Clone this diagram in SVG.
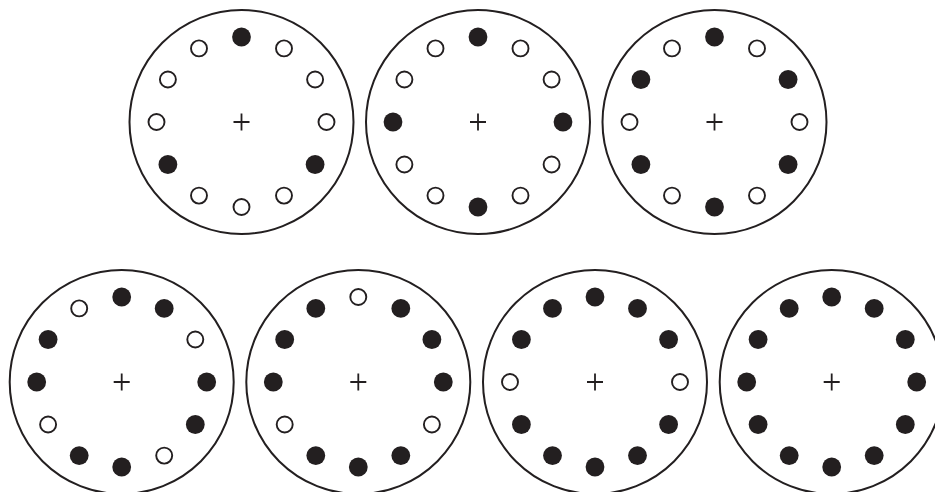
<svg xmlns="http://www.w3.org/2000/svg" xmlns:xlink="http://www.w3.org/1999/xlink" width="935" height="492" viewBox="0 0 935 492">
<style>
.disc{fill:#fff;stroke:#231f20;stroke-width:2}
.f{fill:#231f20}
.o{fill:#fff;stroke:#231f20;stroke-width:1.9}
.plus{stroke:#231f20;stroke-width:1.8;fill:none}
</style>
<defs>
<circle id="F" r="9.4" class="f"/>
<circle id="O" r="8" class="o"/>
<path id="P" class="plus" d="M-8,0H8M0,-8.5V8.5"/>
</defs>
<rect width="935" height="492" fill="#fff"/>

<g id="plate1" transform="translate(241.5,122)">
<circle class="disc" r="112"/><use xlink:href="#P"/>
<use xlink:href="#F" x="0" y="-85"/>
<use xlink:href="#O" x="42.5" y="-73.6"/>
<use xlink:href="#O" x="73.6" y="-42.5"/>
<use xlink:href="#O" x="85" y="0"/>
<use xlink:href="#F" x="73.6" y="42.5"/>
<use xlink:href="#O" x="42.5" y="73.6"/>
<use xlink:href="#O" x="0" y="85"/>
<use xlink:href="#O" x="-42.5" y="73.6"/>
<use xlink:href="#F" x="-73.6" y="42.5"/>
<use xlink:href="#O" x="-85" y="0"/>
<use xlink:href="#O" x="-73.6" y="-42.5"/>
<use xlink:href="#O" x="-42.5" y="-73.6"/>
</g>

<g id="plate2" transform="translate(478,122)">
<circle class="disc" r="112"/><use xlink:href="#P"/>
<use xlink:href="#F" x="0" y="-85"/>
<use xlink:href="#O" x="42.5" y="-73.6"/>
<use xlink:href="#O" x="73.6" y="-42.5"/>
<use xlink:href="#F" x="85" y="0"/>
<use xlink:href="#O" x="73.6" y="42.5"/>
<use xlink:href="#O" x="42.5" y="73.6"/>
<use xlink:href="#F" x="0" y="85"/>
<use xlink:href="#O" x="-42.5" y="73.6"/>
<use xlink:href="#O" x="-73.6" y="42.5"/>
<use xlink:href="#F" x="-85" y="0"/>
<use xlink:href="#O" x="-73.6" y="-42.5"/>
<use xlink:href="#O" x="-42.5" y="-73.6"/>
</g>

<g id="plate3" transform="translate(714.5,122)">
<circle class="disc" r="112"/><use xlink:href="#P"/>
<use xlink:href="#F" x="0" y="-85"/>
<use xlink:href="#O" x="42.5" y="-73.6"/>
<use xlink:href="#F" x="73.6" y="-42.5"/>
<use xlink:href="#O" x="85" y="0"/>
<use xlink:href="#F" x="73.6" y="42.5"/>
<use xlink:href="#O" x="42.5" y="73.6"/>
<use xlink:href="#F" x="0" y="85"/>
<use xlink:href="#O" x="-42.5" y="73.6"/>
<use xlink:href="#F" x="-73.6" y="42.5"/>
<use xlink:href="#O" x="-85" y="0"/>
<use xlink:href="#F" x="-73.6" y="-42.5"/>
<use xlink:href="#O" x="-42.5" y="-73.6"/>
</g>

<g id="plate4" transform="translate(121.7,382)">
<circle class="disc" r="112"/><use xlink:href="#P"/>
<use xlink:href="#F" x="0" y="-85"/>
<use xlink:href="#F" x="42.5" y="-73.6"/>
<use xlink:href="#O" x="73.6" y="-42.5"/>
<use xlink:href="#F" x="85" y="0"/>
<use xlink:href="#F" x="73.6" y="42.5"/>
<use xlink:href="#O" x="42.5" y="73.6"/>
<use xlink:href="#F" x="0" y="85"/>
<use xlink:href="#F" x="-42.5" y="73.6"/>
<use xlink:href="#O" x="-73.6" y="42.5"/>
<use xlink:href="#F" x="-85" y="0"/>
<use xlink:href="#F" x="-73.6" y="-42.5"/>
<use xlink:href="#O" x="-42.5" y="-73.6"/>
</g>

<g id="plate5" transform="translate(358.3,382)">
<circle class="disc" r="112"/><use xlink:href="#P"/>
<use xlink:href="#O" x="0" y="-85"/>
<use xlink:href="#F" x="42.5" y="-73.6"/>
<use xlink:href="#F" x="73.6" y="-42.5"/>
<use xlink:href="#F" x="85" y="0"/>
<use xlink:href="#O" x="73.6" y="42.5"/>
<use xlink:href="#F" x="42.5" y="73.6"/>
<use xlink:href="#F" x="0" y="85"/>
<use xlink:href="#F" x="-42.5" y="73.6"/>
<use xlink:href="#O" x="-73.6" y="42.5"/>
<use xlink:href="#F" x="-85" y="0"/>
<use xlink:href="#F" x="-73.6" y="-42.5"/>
<use xlink:href="#F" x="-42.5" y="-73.6"/>
</g>

<g id="plate6" transform="translate(595,382)">
<circle class="disc" r="112"/><use xlink:href="#P"/>
<use xlink:href="#F" x="0" y="-85"/>
<use xlink:href="#F" x="42.5" y="-73.6"/>
<use xlink:href="#F" x="73.6" y="-42.5"/>
<use xlink:href="#O" x="85" y="0"/>
<use xlink:href="#F" x="73.6" y="42.5"/>
<use xlink:href="#F" x="42.5" y="73.6"/>
<use xlink:href="#F" x="0" y="85"/>
<use xlink:href="#F" x="-42.5" y="73.6"/>
<use xlink:href="#F" x="-73.6" y="42.5"/>
<use xlink:href="#O" x="-85" y="0"/>
<use xlink:href="#F" x="-73.6" y="-42.5"/>
<use xlink:href="#F" x="-42.5" y="-73.6"/>
</g>

<g id="plate7" transform="translate(831.7,382)">
<circle class="disc" r="112"/><use xlink:href="#P"/>
<use xlink:href="#F" x="0" y="-85"/>
<use xlink:href="#F" x="42.5" y="-73.6"/>
<use xlink:href="#F" x="73.6" y="-42.5"/>
<use xlink:href="#F" x="85" y="0"/>
<use xlink:href="#F" x="73.6" y="42.5"/>
<use xlink:href="#F" x="42.5" y="73.6"/>
<use xlink:href="#F" x="0" y="85"/>
<use xlink:href="#F" x="-42.5" y="73.6"/>
<use xlink:href="#F" x="-73.6" y="42.5"/>
<use xlink:href="#F" x="-85" y="0"/>
<use xlink:href="#F" x="-73.6" y="-42.5"/>
<use xlink:href="#F" x="-42.5" y="-73.6"/>
</g>
</svg>
